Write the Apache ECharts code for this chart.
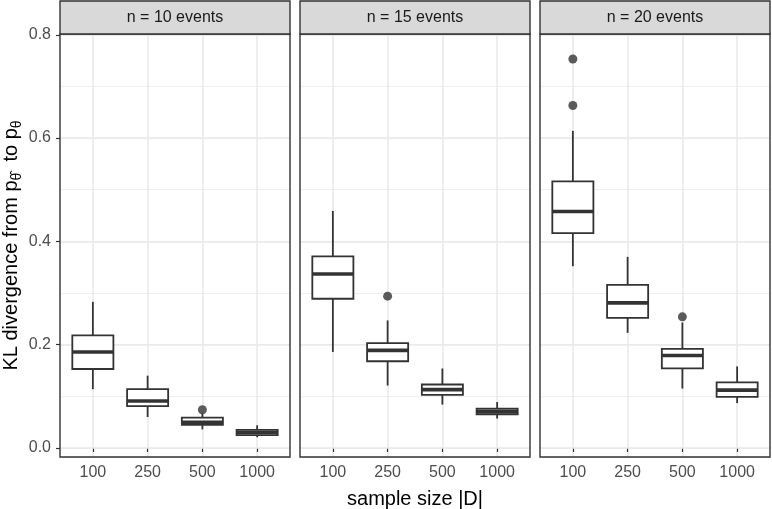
<!DOCTYPE html>
<html>
<head>
<meta charset="utf-8">
<script src="https://cdn.jsdelivr.net/npm/echarts@6/dist/echarts.min.js"></script>
<style>html,body{margin:0;padding:0;background:#fff}#c{width:772px;height:509px}</style>
</head>
<body>
<div id="c"></div>
<script>
// ---- data ----
const categories = ['100', '250', '500', '1000'];
const facetLabels = ['n = 10 events', 'n = 15 events', 'n = 20 events'];
const yTickValues = [0, 0.2, 0.4, 0.6, 0.8];
// box stats per category: [lower whisker, Q1, median, Q3, upper whisker]
const box10 = [[0.114, 0.153, 0.186, 0.218, 0.283], [0.060, 0.081, 0.091, 0.114, 0.140], [0.036, 0.045, 0.050, 0.059, 0.067], [0.021, 0.025, 0.030, 0.035, 0.044]];
const box15 = [[0.186, 0.289, 0.337, 0.371, 0.459], [0.121, 0.168, 0.189, 0.203, 0.247], [0.084, 0.103, 0.113, 0.123, 0.154], [0.057, 0.065, 0.070, 0.076, 0.089]];
const box20 = [[0.352, 0.416, 0.458, 0.516, 0.614], [0.223, 0.252, 0.281, 0.316, 0.370], [0.115, 0.154, 0.179, 0.192, 0.243], [0.087, 0.099, 0.112, 0.127, 0.158]];
// outliers: [category index, value]
const out10 = [[2, 0.074]];
const out15 = [[1, 0.294]];
const out20 = [[0, 0.753], [0, 0.663], [2, 0.254]];

const boxes = [box10, box15, box20];
const outliers = [out10, out15, out20];

// ---- layout ----
const FONT = 'Liberation Sans, Arial, sans-serif';
const panelLeft = [60, 300, 540];
const panelW = 230;
const panelTop = 34;
const panelH = 423;
const stripTop = 1;
const INK = '#333333';

const grids = [], xAxes = [], yAxes = [], series = [], graphics = [];

function renderBox(params, api) {
  const x = api.value(0);
  const lo = api.coord([x, api.value(1)]);
  const q1 = api.coord([x, api.value(2)]);
  const md = api.coord([x, api.value(3)]);
  const q3 = api.coord([x, api.value(4)]);
  const hi = api.coord([x, api.value(5)]);
  const w = api.size([0.75, 0])[0];
  const cx = lo[0];
  return {
    type: 'group',
    children: [
      { type: 'line', shape: { x1: cx, y1: hi[1], x2: cx, y2: lo[1] }, style: { stroke: INK, lineWidth: 1.8 } },
      { type: 'rect', shape: { x: cx - w / 2, y: q3[1], width: w, height: q1[1] - q3[1] }, style: { fill: '#fff', stroke: INK, lineWidth: 1.8 } },
      { type: 'line', shape: { x1: cx - w / 2, y1: md[1], x2: cx + w / 2, y2: md[1] }, style: { stroke: INK, lineWidth: 3.6 } }
    ]
  };
}

const yMin = -0.0174, yMax = 0.8015;

for (let k = 0; k < 3; k++) {
  grids.push({ left: panelLeft[k], top: panelTop, width: panelW, height: panelH, show: true, backgroundColor: '#fff', borderWidth: 0, outerBoundsMode: 'none', containLabel: false });
  xAxes.push({
    type: 'value', gridIndex: k, min: 0.4, max: 4.6, splitNumber: 4,
    axisLine: { show: false },
    axisTick: { show: true, length: 4, lineStyle: { color: INK, width: 1.2 }, customValues: [1, 2, 3, 4] },
    axisLabel: {
      show: true, margin: 8, color: '#4d4d4d', fontSize: 16, fontFamily: FONT,
      customValues: [1, 2, 3, 4],
      formatter: v => (Math.abs(v - Math.round(v)) < 1e-6 && categories[Math.round(v) - 1]) ? categories[Math.round(v) - 1] : ''
    },
    splitLine: { show: true, lineStyle: { color: '#e8e8e8', width: 1.5 } },
    name: k === 1 ? 'sample size |D|' : '',
    nameLocation: 'middle', nameGap: 32,
    nameTextStyle: { fontSize: 20, color: '#000', fontFamily: FONT }
  });
  // major axis
  yAxes.push({
    type: 'value', gridIndex: k, min: yMin, max: yMax, splitNumber: 4,
    axisLine: { show: false },
    axisTick: { show: k === 0, length: 4, lineStyle: { color: INK, width: 1.2 }, customValues: yTickValues },
    axisLabel: {
      show: k === 0, margin: 9, color: '#4d4d4d', fontSize: 16, fontFamily: FONT,
      customValues: yTickValues,
      formatter: v => (Math.abs(v * 5 - Math.round(v * 5)) < 1e-6) ? v.toFixed(1) : ''
    },
    splitLine: { show: true, lineStyle: { color: '#e8e8e8', width: 1.5 } },
    z: 1,
    name: k === 0 ? '{a|KL divergence from p}{s|θ̂}{a|  to p}{s|θ}' : '',
    nameLocation: 'middle', nameGap: 37, nameRotate: 90,
    nameTextStyle: {
      color: '#000', fontFamily: FONT,
      rich: {
        a: { fontSize: 20, color: '#000', fontFamily: FONT, verticalAlign: 'top', lineHeight: 22 },
        s: { fontSize: 14, color: '#000', fontFamily: FONT, verticalAlign: 'top', lineHeight: 14, padding: [9, 0, 0, 0] }
      }
    }
  });
  // minor grid axis
  yAxes.push({
    type: 'value', gridIndex: k, min: yMin, max: yMax, splitNumber: 8, position: 'left',
    axisLine: { show: false }, axisTick: { show: false }, axisLabel: { show: false },
    splitLine: { show: true, lineStyle: { color: '#efefef', width: 1 } },
    z: 0
  });

  series.push({
    type: 'custom', xAxisIndex: k, yAxisIndex: 2 * k,
    renderItem: renderBox,
    encode: { x: 0, y: [1, 2, 3, 4, 5] },
    data: boxes[k].map((s, i) => [i + 1].concat(s)),
    z: 3, silent: true
  });
  series.push({
    type: 'scatter', xAxisIndex: k, yAxisIndex: 2 * k,
    symbol: 'circle', symbolSize: 9,
    itemStyle: { color: INK },
    data: outliers[k].map(o => [o[0] + 1, o[1]]),
    z: 4, silent: true
  });

  // panel frame + strip
  graphics.push({
    type: 'rect', z: 100, silent: true,
    shape: { x: panelLeft[k], y: panelTop, width: panelW, height: panelH },
    style: { fill: null, stroke: INK, lineWidth: 1.4 }
  });
  graphics.push({
    type: 'rect', z: 100, silent: true,
    shape: { x: panelLeft[k], y: stripTop, width: panelW, height: panelTop - stripTop },
    style: { fill: '#d9d9d9', stroke: INK, lineWidth: 1.4 }
  });
  graphics.push({
    type: 'text', z: 101, silent: true,
    x: panelLeft[k] + panelW / 2, y: (stripTop + panelTop) / 2 + 0.5,
    style: { text: facetLabels[k], fill: '#1a1a1a', font: '16px ' + FONT, align: 'center', verticalAlign: 'middle' }
  });
}

const chart = echarts.init(document.getElementById('c'), null, { renderer: 'canvas' });
chart.setOption({
  animation: false,
  backgroundColor: '#fff',
  grid: grids,
  xAxis: xAxes,
  yAxis: yAxes,
  series: series,
  graphic: graphics
});
</script>
</body>
</html>
